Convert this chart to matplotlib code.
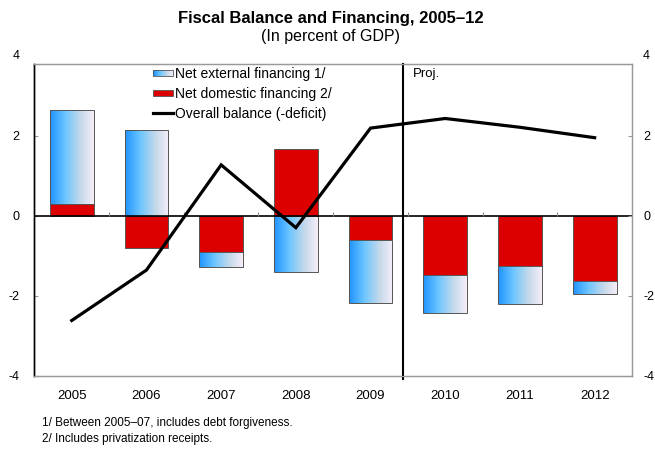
import matplotlib
matplotlib.use("Agg")
import matplotlib.pyplot as plt
import numpy as np
from matplotlib.colors import LinearSegmentedColormap
from matplotlib.legend_handler import HandlerBase
from matplotlib.lines import Line2D
from matplotlib.patches import Rectangle

plt.rcParams["font.family"] = ["Liberation Sans", "DejaVu Sans"]
plt.rcParams["axes.unicode_minus"] = False

years = ["2005", "2006", "2007", "2008", "2009", "2010", "2011", "2012"]
external = [2.36, 2.14, -0.39, -1.40, -1.56, -0.94, -0.94, -0.32]
domestic = [0.28, -0.80, -0.90, 1.67, -0.62, -1.49, -1.27, -1.63]
balance = [-2.62, -1.36, 1.27, -0.30, 2.19, 2.43, 2.21, 1.95]

proj_x = 4.43
ymin, ytop = -4, 3.785

RED = "#dd0000"
EDGE = "#555555"
blue_grad = LinearSegmentedColormap.from_list(
    "ext", [(0.0, "#1f93ff"), (0.35, "#6cc6ff"), (0.7, "#c6d9ea"), (1.0, "#f6eef9")])


class GradientHandler(HandlerBase):
    def create_artists(self, legend, orig_handle, xdescent, ydescent,
                       width, height, fontsize, trans):
        h = height * 0.6
        y0 = -ydescent + (height - h) / 2
        n = 30
        arts = [Rectangle((-xdescent + width * i / n, y0), width / n + 0.3, h,
                          facecolor=blue_grad((i + 0.5) / n), edgecolor="none",
                          transform=trans) for i in range(n)]
        arts.append(Rectangle((-xdescent, y0), width, h, facecolor="none",
                              edgecolor=EDGE, lw=0.6, transform=trans))
        return arts


class FlatHandler(HandlerBase):
    def create_artists(self, legend, orig_handle, xdescent, ydescent,
                       width, height, fontsize, trans):
        h = height * 0.6
        y0 = -ydescent + (height - h) / 2
        return [Rectangle((-xdescent, y0), width, h, facecolor=RED,
                          edgecolor=EDGE, lw=0.6, transform=trans)]


fig = plt.figure(figsize=(6.55, 4.49), dpi=100)
ax = fig.add_axes([0.0525, 0.1633, 0.9124, 0.6935])

x = np.arange(len(years))
w = 0.585
dom = np.array(domestic)
ext = np.array(external)
ext_bottom = np.where(np.sign(ext) == np.sign(dom), dom, 0.0)

ax.bar(x, dom, w, color=RED, edgecolor=EDGE, linewidth=0.7, zorder=2)
ext_bars = ax.bar(x, ext, w, bottom=ext_bottom, facecolor="none",
                  edgecolor=EDGE, linewidth=0.7, zorder=3)

# horizontal gradient inside each external-financing bar
grad = np.linspace(0, 1, 256).reshape(1, -1)
for xi, b0, v, patch in zip(x, ext_bottom, ext, ext_bars):
    lo, hi = sorted([b0, b0 + v])
    im = ax.imshow(grad, cmap=blue_grad, aspect="auto", interpolation="bilinear",
                   extent=(xi - w / 2, xi + w / 2, lo, hi), zorder=2.5)
    im.set_clip_path(patch)

ax.axhline(0, color="black", lw=1.2, zorder=4)
# category separators sitting on the zero line
ax.vlines(x[:-1] + 0.5, 0, 0.09, color="#888888", lw=0.8, zorder=4)

ax.plot(x, balance, color="black", lw=2.3, solid_joinstyle="miter", zorder=5)
ax.axvline(proj_x, color="black", lw=1.5, zorder=6, ymin=-0.012, clip_on=False)
ax.text(proj_x + 0.14, 3.55, "Proj.", fontsize=9.5, va="center", ha="left")

ax.set_xlim(-0.5, len(years) - 0.5)
ax.set_ylim(ymin, ytop)
ax.set_xticks(x)
ax.set_xticklabels(years, fontsize=9.5)
ax.tick_params(axis="x", length=0, pad=10.5)
ax.set_yticks([-4, -2, 0, 2])
ax.tick_params(axis="y", direction="in", length=3, color="#999999",
               labelsize=9, pad=10.5)

ax2 = ax.twinx()
ax2.set_ylim(ymin, ytop)
ax2.set_yticks([-4, -2, 0, 2])
ax2.tick_params(axis="y", direction="in", length=3, color="#999999",
                labelsize=9, pad=8)
for a in (ax, ax2):
    for side in ("top", "right", "bottom"):
        a.spines[side].set_color("#999999")
        a.spines[side].set_linewidth(0.9)
    a.spines["left"].set_color("black")
    a.spines["left"].set_linewidth(1.0)

# top labels sit just above the frame
ax.annotate("4", xy=(0, 4), xycoords=("axes fraction", "data"), xytext=(-10.5, 0),
            textcoords="offset points", ha="right", va="center", fontsize=9)
ax.annotate("4", xy=(1, 4), xycoords=("axes fraction", "data"), xytext=(8, 0),
            textcoords="offset points", ha="left", va="center", fontsize=9)

handles = [Rectangle((0, 0), 1, 1), Rectangle((0, 0), 1, 1),
           Line2D([], [], color="black", lw=2.3)]
labels = ["Net external financing 1/", "Net domestic financing 2/",
          "Overall balance (-deficit)"]
leg = ax.legend(handles, labels, loc="upper left",
                bbox_to_anchor=(153.3 / 655, 1 - 67 / 449),
                bbox_transform=fig.transFigure, frameon=False, fontsize=10,
                handlelength=1.45, handletextpad=0.1, labelspacing=0.42,
                borderpad=0, borderaxespad=0,
                handler_map={handles[0]: GradientHandler(),
                             handles[1]: FlatHandler()})
leg.set_zorder(7)

fig.text(0.505, 1 - 18 / 449, "Fiscal Balance and Financing, 2005\u201312",
         ha="center", va="center", fontsize=12, fontweight="bold")
fig.text(0.505, 1 - 37 / 449, "(In percent of GDP)", ha="center", va="center",
         fontsize=11.5)
fig.text(42.5 / 655, 1 - 423 / 449, "1/ Between 2005\u201307, includes debt forgiveness.",
         ha="left", va="center", fontsize=8.5)
fig.text(42.5 / 655, 1 - 439 / 449, "2/ Includes privatization receipts.",
         ha="left", va="center", fontsize=8.5)

fig.savefig("out.png", dpi=100)
